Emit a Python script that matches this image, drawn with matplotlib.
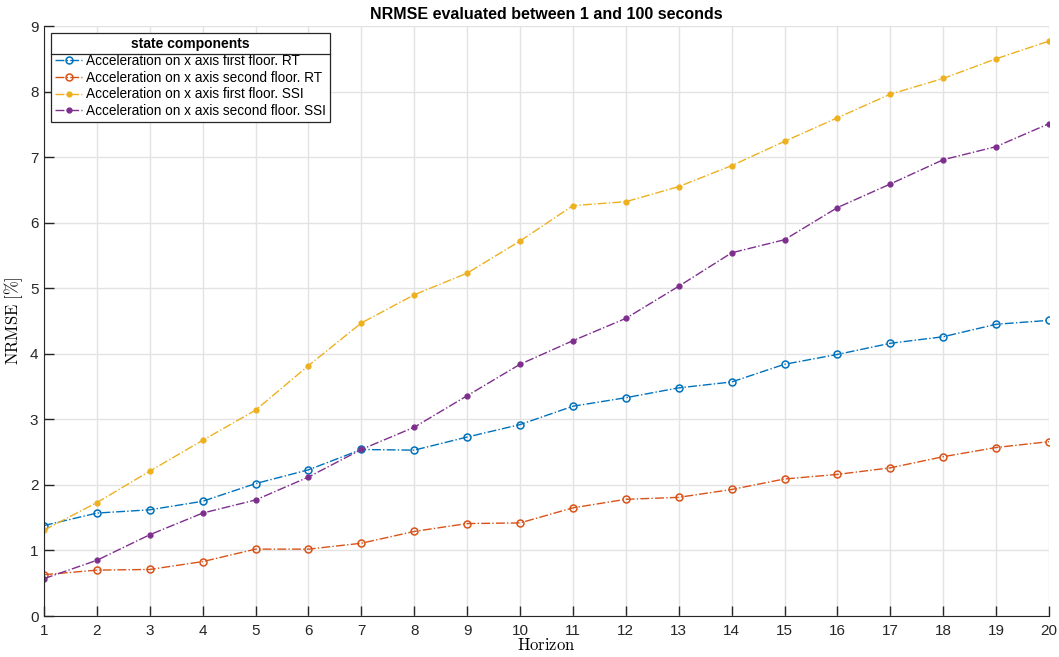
import matplotlib.pyplot as plt
from matplotlib.lines import Line2D

horizon = list(range(1, 21))
rt_first = [1.38, 1.57, 1.62, 1.75, 2.02, 2.23, 2.54, 2.53, 2.73, 2.92,
            3.20, 3.33, 3.48, 3.57, 3.84, 3.99, 4.16, 4.26, 4.45, 4.51]
rt_second = [0.63, 0.70, 0.71, 0.83, 1.02, 1.02, 1.11, 1.29, 1.41, 1.42,
             1.65, 1.78, 1.81, 1.93, 2.09, 2.16, 2.26, 2.43, 2.57, 2.66]
ssi_first = [1.31, 1.73, 2.21, 2.68, 3.14, 3.82, 4.47, 4.90, 5.23, 5.72,
             6.26, 6.32, 6.55, 6.87, 7.24, 7.60, 7.96, 8.20, 8.50, 8.77]
ssi_second = [0.57, 0.85, 1.24, 1.57, 1.77, 2.12, 2.54, 2.88, 3.36, 3.84,
              4.20, 4.54, 5.03, 5.54, 5.74, 6.23, 6.59, 6.96, 7.16, 7.51]
labels = ['Acceleration on x axis first floor. RT',
          'Acceleration on x axis second floor. RT',
          'Acceleration on x axis first floor. SSI',
          'Acceleration on x axis second floor. SSI']

plt.rcParams['font.family'] = ['Liberation Sans', 'DejaVu Sans']
plt.rcParams['mathtext.fontset'] = 'cm'

fig = plt.figure(figsize=(10.59, 6.57), dpi=100)
ax = fig.add_axes([44 / 1059, 1 - 616 / 657, 1005 / 1059, 590 / 657])

ax.plot(horizon, rt_first, '-.', color='#0072BD', marker='o', mfc='none',
        ms=5, mew=1.1, lw=1.0, label=labels[0])
ax.plot(horizon, rt_second, '-.', color='#D95319', marker='o', mfc='none',
        ms=5, mew=1.1, lw=1.0, label=labels[1])
ax.plot(horizon, ssi_first, '-.', color='#EDB120', marker='.', ms=7,
        lw=1.0, label=labels[2])
ax.plot(horizon, ssi_second, '-.', color='#7E2F8E', marker='.', ms=7,
        lw=1.0, label=labels[3])

ax.set_xlim(1, 20)
ax.set_ylim(0, 9)
ax.set_xticks(horizon)
ax.set_yticks(range(0, 10))
ax.grid(True, color='#e3e3e3', lw=1)
ax.set_axisbelow(True)
for s in ['top', 'right']:
    ax.spines[s].set_visible(False)
for s in ['left', 'bottom']:
    ax.spines[s].set_color('#262626')
ax.tick_params(direction='in', length=7, width=1, colors='#262626',
               labelsize=11, pad=6)
ax.tick_params(axis='y', pad=4)

ax.set_title('NRMSE evaluated between 1 and 100 seconds', fontsize=11.5,
             fontweight='bold', pad=5)
ax.set_xlabel(r'$\mathrm{Horizon}$', fontsize=12, labelpad=-1)
ax.set_ylabel(r'$\mathrm{NRMSE}\ [\%]$', fontsize=12)
ax.yaxis.set_label_coords(-0.019, 0.5)

leg = ax.legend(loc='upper left', bbox_to_anchor=(0.007, 0.988),
                title='state components', fontsize=9.8, frameon=True,
                fancybox=False, edgecolor='#262626', framealpha=1,
                handlelength=2.0, handletextpad=0.3, borderpad=0.3,
                labelspacing=0.2, borderaxespad=0.0)
leg.get_title().set_fontweight('bold')
leg.get_title().set_fontsize(10)
leg.get_frame().set_linewidth(0.9)

fig.canvas.draw()
r = fig.canvas.get_renderer()
fb = leg.get_frame().get_window_extent(r)
tb = leg.get_title().get_window_extent(r)
ysep = tb.y0 - 3
fig.add_artist(Line2D([fb.x0 / fig.bbox.width, fb.x1 / fig.bbox.width],
                      [ysep / fig.bbox.height, ysep / fig.bbox.height],
                      color='#262626', lw=0.9, transform=fig.transFigure))

fig.savefig('out.png', dpi=100)
